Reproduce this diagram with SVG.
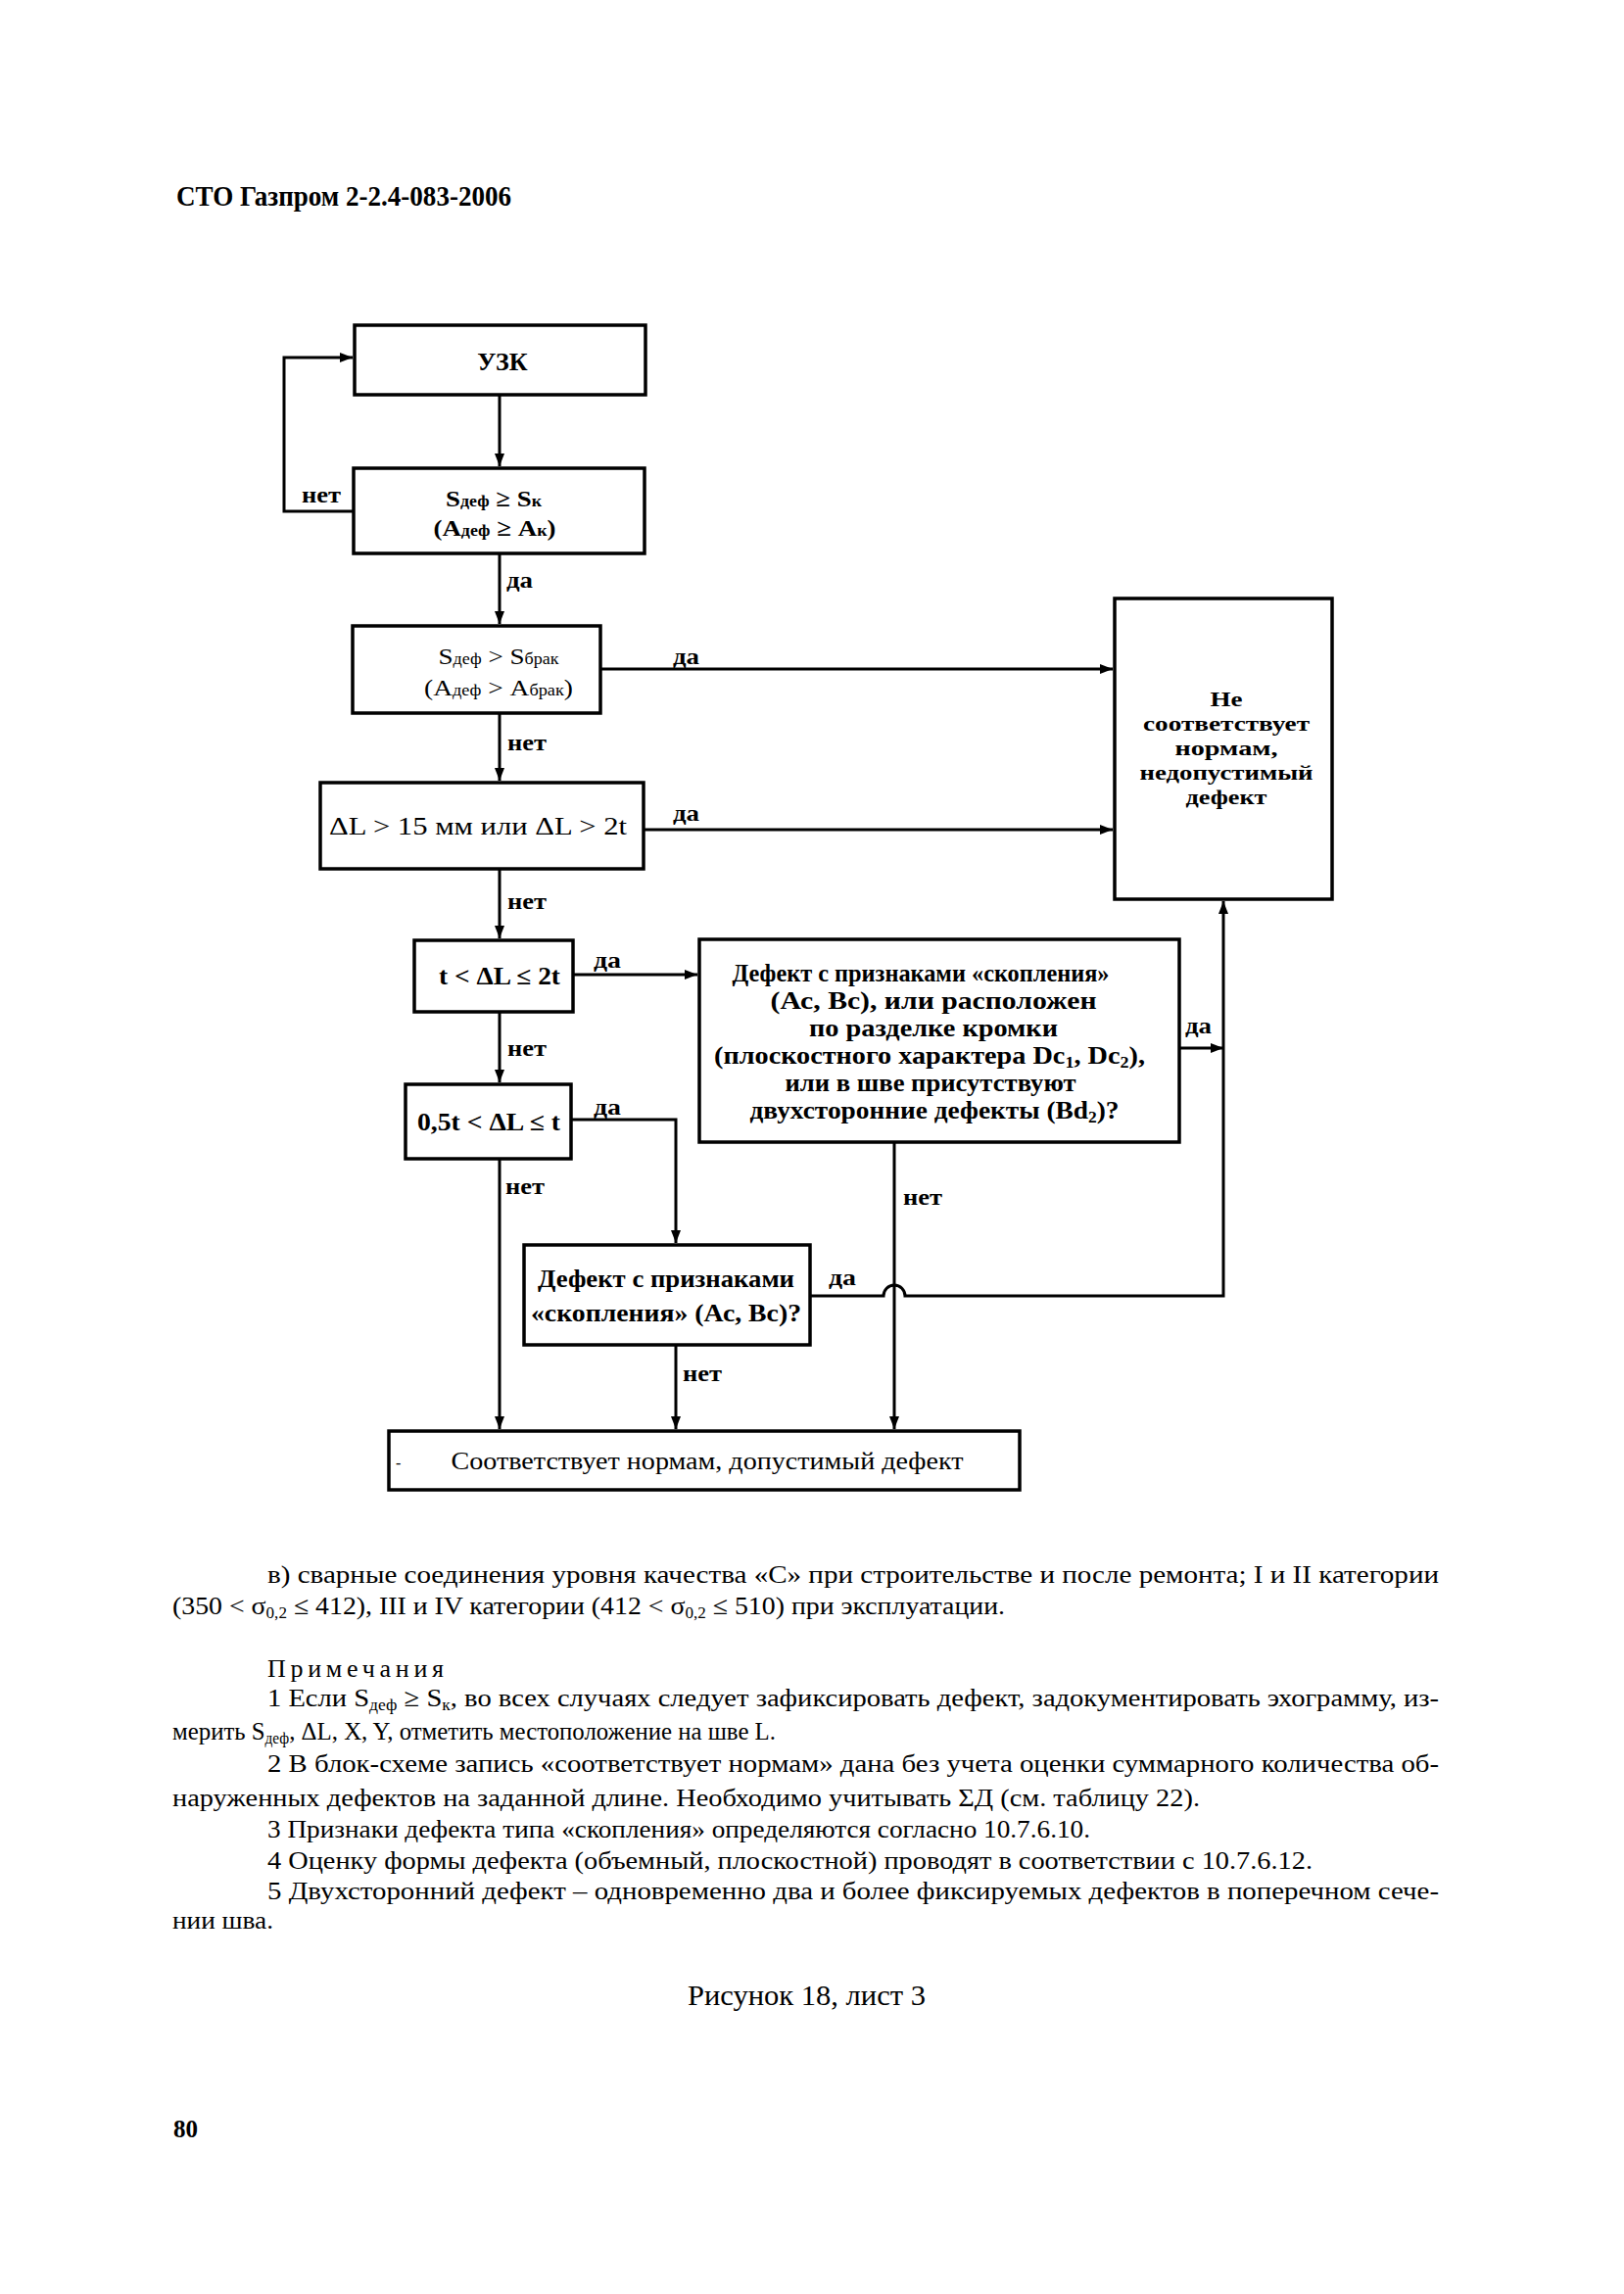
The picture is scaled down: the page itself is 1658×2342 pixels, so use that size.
<svg xmlns="http://www.w3.org/2000/svg" width="1658" height="2342" viewBox="0 0 1658 2342">
<style>
.box{fill:#fff;stroke:#000;stroke-width:3.5}
.ln{fill:none;stroke:#000;stroke-width:3}
.t{font-family:"Liberation Serif","Times New Roman",serif;fill:#000}
.b{font-weight:bold}
.m{text-anchor:middle}
.lab{font-family:"Liberation Serif","Times New Roman",serif;font-weight:bold;font-size:24px;fill:#000}
.body{font-family:"Liberation Serif","Times New Roman",serif;font-size:26px;fill:#000}
</style>
<defs>
<marker id="ar" markerUnits="userSpaceOnUse" markerWidth="14" markerHeight="10" refX="13" refY="5" orient="auto">
<path d="M0,0 L13,5 L0,10 z" fill="#000"/>
</marker>
</defs>
<rect width="1658" height="2342" fill="#fff"/>
<text class="t b" x="180" y="210" font-size="30" textLength="342" lengthAdjust="spacingAndGlyphs">СТО Газпром 2-2.4-083-2006</text>

<g id="connectors">
<path class="ln" d="M510,403 V476" marker-end="url(#ar)"/>
<path class="ln" d="M361,522 H290 V365 H360" marker-end="url(#ar)"/>
<path class="ln" d="M510,565 V637" marker-end="url(#ar)"/>
<path class="ln" d="M613,683 H1136" marker-end="url(#ar)"/>
<path class="ln" d="M510,728 V797" marker-end="url(#ar)"/>
<path class="ln" d="M657,847 H1136" marker-end="url(#ar)"/>
<path class="ln" d="M510,887 V958" marker-end="url(#ar)"/>
<path class="ln" d="M585,995 H712" marker-end="url(#ar)"/>
<path class="ln" d="M510,1033 V1105" marker-end="url(#ar)"/>
<path class="ln" d="M583,1143 H690 V1269" marker-end="url(#ar)"/>
<path class="ln" d="M510,1183 V1459" marker-end="url(#ar)"/>
<path class="ln" d="M913,1166 V1459" marker-end="url(#ar)"/>
<path class="ln" d="M690,1373 V1459" marker-end="url(#ar)"/>
<path class="ln" d="M827,1323 H902 A11,11 0 0 1 924,1323 H1249 V920" marker-end="url(#ar)"/>
<path class="ln" d="M1204,1070 H1249" marker-end="url(#ar)"/>
<text class="lab" x="308" y="513" textLength="40" lengthAdjust="spacingAndGlyphs">нет</text>
<text class="lab" x="517" y="600" textLength="27" lengthAdjust="spacingAndGlyphs">да</text>
<text class="lab" x="687" y="678" textLength="27" lengthAdjust="spacingAndGlyphs">да</text>
<text class="lab" x="518" y="766" textLength="40" lengthAdjust="spacingAndGlyphs">нет</text>
<text class="lab" x="687" y="838" textLength="27" lengthAdjust="spacingAndGlyphs">да</text>
<text class="lab" x="518" y="928" textLength="40" lengthAdjust="spacingAndGlyphs">нет</text>
<text class="lab" x="606" y="988" textLength="28" lengthAdjust="spacingAndGlyphs">да</text>
<text class="lab" x="518" y="1078" textLength="40" lengthAdjust="spacingAndGlyphs">нет</text>
<text class="lab" x="606" y="1138" textLength="28" lengthAdjust="spacingAndGlyphs">да</text>
<text class="lab" x="516" y="1219" textLength="40" lengthAdjust="spacingAndGlyphs">нет</text>
<text class="lab" x="1210" y="1055" textLength="27" lengthAdjust="spacingAndGlyphs">да</text>
<text class="lab" x="922" y="1230" textLength="40" lengthAdjust="spacingAndGlyphs">нет</text>
<text class="lab" x="846" y="1312" textLength="28" lengthAdjust="spacingAndGlyphs">да</text>
<text class="lab" x="697" y="1410" textLength="40" lengthAdjust="spacingAndGlyphs">нет</text>
</g>

<g id="n_uzk">
<rect class="box" x="362" y="332" width="297" height="71"/>
<text class="t b m" x="513" y="378" font-size="26">УЗК</text>
</g>

<g id="n_sk">
<rect class="box" x="361" y="478" width="297" height="87"/>
<text class="t b m" x="504" y="517" font-size="24" textLength="98" lengthAdjust="spacingAndGlyphs">S<tspan font-size="16">деф</tspan> ≥ S<tspan font-size="16">к</tspan></text>
<text class="t b m" x="505" y="547" font-size="24" textLength="125" lengthAdjust="spacingAndGlyphs">(A<tspan font-size="16">деф</tspan> ≥ A<tspan font-size="16">к</tspan>)</text>
</g>

<g id="n_sbrak">
<rect class="box" x="360" y="639" width="253" height="89"/>
<text class="t m" x="509" y="678" font-size="24" textLength="123" lengthAdjust="spacingAndGlyphs">S<tspan font-size="16">деф</tspan> &gt; S<tspan font-size="16">брак</tspan></text>
<text class="t m" x="509" y="710" font-size="24" textLength="152" lengthAdjust="spacingAndGlyphs">(A<tspan font-size="16">деф</tspan> &gt; A<tspan font-size="16">брак</tspan>)</text>
</g>

<g id="n_dl15">
<rect class="box" x="327" y="799" width="330" height="88"/>
<text class="t m" x="488" y="852" font-size="25" textLength="304" lengthAdjust="spacingAndGlyphs">ΔL &gt; 15 мм  или  ΔL &gt; 2t</text>
</g>

<g id="n_t2t">
<rect class="box" x="423" y="960" width="162" height="73"/>
<text class="t b m" x="510" y="1005" font-size="25" textLength="124" lengthAdjust="spacingAndGlyphs">t &lt; ΔL ≤ 2t</text>
</g>

<g id="n_q1">
<rect class="box" x="714" y="959" width="490" height="207"/>
<text class="t b m" x="940" y="1002" font-size="25" textLength="385" lengthAdjust="spacingAndGlyphs">Дефект с признаками «скопления»</text>
<text class="t b m" x="953" y="1030" font-size="25" textLength="333" lengthAdjust="spacingAndGlyphs">(Ас, Вс), или расположен</text>
<text class="t b m" x="953" y="1058" font-size="25" textLength="254" lengthAdjust="spacingAndGlyphs">по разделке кромки</text>
<text class="t b m" x="949" y="1086" font-size="25" textLength="440" lengthAdjust="spacingAndGlyphs">(плоскостного характера Dc<tspan font-size="16" dy="4">1</tspan><tspan dy="-4">, Dc</tspan><tspan font-size="16" dy="4">2</tspan><tspan dy="-4">),</tspan></text>
<text class="t b m" x="950" y="1114" font-size="25" textLength="297" lengthAdjust="spacingAndGlyphs">или в шве присутствуют</text>
<text class="t b m" x="954" y="1142" font-size="25" textLength="377" lengthAdjust="spacingAndGlyphs">двухсторонние дефекты (Bd<tspan font-size="16" dy="4">2</tspan><tspan dy="-4">)?</tspan></text>
</g>

<g id="n_halft">
<rect class="box" x="414" y="1107" width="169" height="76"/>
<text class="t b m" x="499" y="1154" font-size="25" textLength="146" lengthAdjust="spacingAndGlyphs">0,5t &lt; ΔL ≤ t</text>
</g>

<g id="n_q2">
<rect class="box" x="535" y="1271" width="292" height="102"/>
<text class="t b m" x="680" y="1314" font-size="25" textLength="262" lengthAdjust="spacingAndGlyphs">Дефект с признаками</text>
<text class="t b m" x="680" y="1349" font-size="25" textLength="276" lengthAdjust="spacingAndGlyphs">«скопления» (Ас, Вс)?</text>
</g>

<g id="n_bad">
<rect class="box" x="1138" y="611" width="222" height="307"/>
<text class="t b m" x="1252" y="721" font-size="22" textLength="33" lengthAdjust="spacingAndGlyphs">Не</text>
<text class="t b m" x="1252" y="746" font-size="22" textLength="170" lengthAdjust="spacingAndGlyphs">соответствует</text>
<text class="t b m" x="1252" y="771" font-size="22" textLength="105" lengthAdjust="spacingAndGlyphs">нормам,</text>
<text class="t b m" x="1252" y="796" font-size="22" textLength="177" lengthAdjust="spacingAndGlyphs">недопустимый</text>
<text class="t b m" x="1252" y="821" font-size="22" textLength="83" lengthAdjust="spacingAndGlyphs">дефект</text>
</g>

<g id="n_ok">
<rect class="box" x="397" y="1461" width="644" height="60"/>
<text class="t" x="404" y="1499" font-size="16">-</text>
<text class="t m" x="722" y="1500" font-size="26" textLength="523" lengthAdjust="spacingAndGlyphs">Соответствует нормам, допустимый дефект</text>
</g>

<text class="body" x="273" y="1616" textLength="1196" lengthAdjust="spacingAndGlyphs">в) сварные соединения уровня качества «С» при строительстве и после ремонта; I и II категории</text>
<text class="body" x="176" y="1648" textLength="850" lengthAdjust="spacingAndGlyphs">(350 &lt; σ<tspan font-size="16" dy="4">0,2</tspan><tspan dy="-4"> ≤ 412), III и IV категории (412 &lt; σ</tspan><tspan font-size="16" dy="4">0,2</tspan><tspan dy="-4"> ≤ 510) при эксплуатации.</tspan></text>
<text class="body" x="273" y="1712" textLength="180" lengthAdjust="spacing">Примечания</text>
<text class="body" x="273" y="1742" textLength="1196" lengthAdjust="spacingAndGlyphs">1 Если S<tspan font-size="16" dy="4">деф</tspan><tspan dy="-4"> ≥ S</tspan><tspan font-size="16" dy="4">к</tspan><tspan dy="-4">, во всех случаях следует зафиксировать дефект, задокументировать эхограмму, из-</tspan></text>
<text class="body" x="176" y="1776" textLength="616" lengthAdjust="spacingAndGlyphs">мерить S<tspan font-size="16" dy="4">деф</tspan><tspan dy="-4">, ΔL, X, Y, отметить местоположение на шве L.</tspan></text>
<text class="body" x="273" y="1809" textLength="1196" lengthAdjust="spacingAndGlyphs">2 В блок-схеме запись «соответствует нормам» дана без учета оценки суммарного количества об-</text>
<text class="body" x="176" y="1844" textLength="1049" lengthAdjust="spacingAndGlyphs">наруженных дефектов на заданной длине. Необходимо учитывать ΣД (см. таблицу 22).</text>
<text class="body" x="273" y="1876" textLength="840" lengthAdjust="spacingAndGlyphs">3 Признаки дефекта типа «скопления» определяются согласно 10.7.6.10.</text>
<text class="body" x="273" y="1908" textLength="1067" lengthAdjust="spacingAndGlyphs">4 Оценку формы дефекта (объемный, плоскостной) проводят в соответствии с 10.7.6.12.</text>
<text class="body" x="273" y="1939" textLength="1196" lengthAdjust="spacingAndGlyphs">5 Двухсторонний дефект – одновременно два и более фиксируемых дефектов в поперечном сече-</text>
<text class="body" x="176" y="1969" textLength="103" lengthAdjust="spacingAndGlyphs">нии шва.</text>
<text class="t" x="702" y="2047" font-size="30" textLength="243" lengthAdjust="spacingAndGlyphs">Рисунок 18, лист 3</text>
<text class="t b" x="177" y="2182" font-size="26" textLength="25" lengthAdjust="spacingAndGlyphs">80</text>
</svg>
